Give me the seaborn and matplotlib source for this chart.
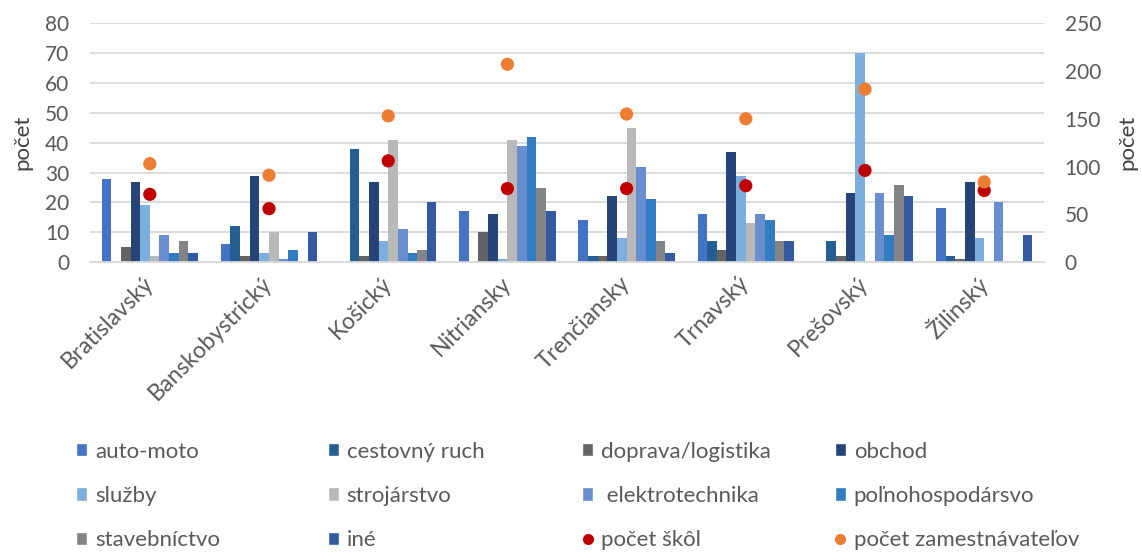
import numpy as np
import pandas as pd
import matplotlib
matplotlib.use("Agg")
import matplotlib.pyplot as plt
from matplotlib.lines import Line2D
from matplotlib.patches import Patch
import seaborn as sns

regions = ["Bratislavský", "Banskobystrický", "Košický", "Nitriansky",
           "Trenčiansky", "Trnavský", "Prešovský", "Žilinský"]

sectors = ["auto-moto", "cestovný ruch", "doprava/logistika", "obchod", "služby",
           "strojárstvo", " elektrotechnika", "poľnohospodársvo", "stavebníctvo", "iné"]

auto_moto = [28, 6, 0, 17, 14, 16, 0, 18]
cestovny_ruch = [0, 12, 38, 0, 2, 7, 7, 2]
doprava = [5, 2, 2, 10, 2, 4, 2, 1]
obchod = [27, 29, 27, 16, 22, 37, 23, 27]
sluzby = [19, 3, 7, 1, 8, 29, 70, 8]
strojarstvo = [2, 10, 41, 41, 45, 13, 0, 0]
elektrotechnika = [9, 1, 11, 39, 32, 16, 23, 20]
polnohospodarstvo = [3, 4, 3, 42, 21, 14, 9, 0]
stavebnictvo = [7, 0, 4, 25, 7, 7, 26, 0]
ine = [3, 10, 20, 17, 3, 7, 22, 9]

pocet_skol = [71, 56, 106, 77, 77, 80, 96, 75]
pocet_zamestnavatelov = [103, 91, 153, 207, 155, 150, 181, 84]

sector_colors = ["#4472C4", "#255E91", "#636363", "#264478", "#7CAFDD",
                 "#B9B9B9", "#698ED0", "#327DC2", "#848484", "#335AA1"]
dot_labels = ["počet škôl", "počet zamestnávateľov"]
dot_colors = ["#C00000", "#ED7D31"]

series = [auto_moto, cestovny_ruch, doprava, obchod, sluzby, strojarstvo,
          elektrotechnika, polnohospodarstvo, stavebnictvo, ine]

bars = pd.DataFrame({
    "kraj": np.repeat(regions, len(sectors)),
    "odvetvie": sectors * len(regions),
    "pocet": [series[j][i] for i in range(len(regions)) for j in range(len(sectors))],
})
dots = pd.DataFrame({
    "kraj": regions * 2,
    "ukazovateľ": np.repeat(dot_labels, len(regions)),
    "pocet": pocet_skol + pocet_zamestnavatelov,
})

sns.set_theme(style="white")
plt.rcParams["font.family"] = ["Lato", "DejaVu Sans"]
text_color = "#595959"
grid_color = "#D9D9D9"

fig = plt.figure(figsize=(11.42, 5.52), dpi=100)
ax = fig.add_axes([0.079, 0.525, 0.835, 0.433])

# grouped bars: one bar per sector inside each region
sns.barplot(data=bars, x="kraj", y="pocet", hue="odvetvie", hue_order=sectors,
            palette=sector_colors, width=0.81, saturation=1, errorbar=None,
            linewidth=0, ax=ax, legend=False)

ax.set_ylim(0, 80)
ax.set_yticks(range(0, 81, 10))
ax.set_xlim(-0.5, len(regions) - 0.5)
ax.yaxis.grid(True, color=grid_color, linewidth=1.3)
ax.set_axisbelow(True)
for side in ["left", "right", "top"]:
    ax.spines[side].set_visible(False)
ax.spines["bottom"].set_color(grid_color)
ax.spines["bottom"].set_linewidth(1.3)
ax.tick_params(axis="y", length=0, labelsize=15, colors=text_color, pad=15)
ax.tick_params(axis="x", length=0, labelsize=16.5, colors=text_color, pad=13)
ax.set_xlabel("")
ax.set_ylabel("počet", fontsize=16, color="#404040", labelpad=9)

# schools and employers on the secondary axis
ax2 = ax.twinx()
sns.stripplot(data=dots, x="kraj", y="pocet", hue="ukazovateľ", hue_order=dot_labels,
              palette=dot_colors, jitter=False, dodge=False, size=9.5,
              linewidth=0, ax=ax2, legend=False, zorder=5)
ax2.set_ylim(0, 250)
ax2.set_yticks(range(0, 251, 50))
ax2.set_xlim(-0.5, len(regions) - 0.5)
ax2.grid(False)
for side in ["left", "right", "top", "bottom"]:
    ax2.spines[side].set_visible(False)
ax2.tick_params(axis="y", length=0, labelsize=15, colors=text_color, pad=15)
ax2.set_ylabel("počet", fontsize=16, color="#404040", labelpad=12)
ax2.set_xlabel("")
ax.set_xticks(range(len(regions)))
ax.set_xticklabels(regions, rotation=45, ha="right", va="center",
                   rotation_mode="anchor")

# legend: four columns of three entries each
handles = [Patch(facecolor=c, label=s) for s, c in zip(sectors, sector_colors)]
handles += [Line2D([], [], marker="o", linestyle="", markersize=8,
                   markerfacecolor=c, markeredgewidth=0, label=l)
            for l, c in zip(dot_labels, dot_colors)]
col_x = [0.0666, 0.287, 0.5096, 0.731]
for k, x0 in enumerate(col_x):
    items = [handles[k], handles[k + 4], handles[k + 8]]
    leg = fig.legend(items, [h.get_label() for h in items], loc="upper left",
                     bbox_to_anchor=(x0, 0.2), frameon=False, fontsize=16,
                     handlelength=0.5, handleheight=0.55, handletextpad=0.35,
                     labelspacing=1.1, borderpad=0, borderaxespad=0)
    for t in leg.get_texts():
        t.set_color(text_color)

fig.savefig("out.png", dpi=100)
